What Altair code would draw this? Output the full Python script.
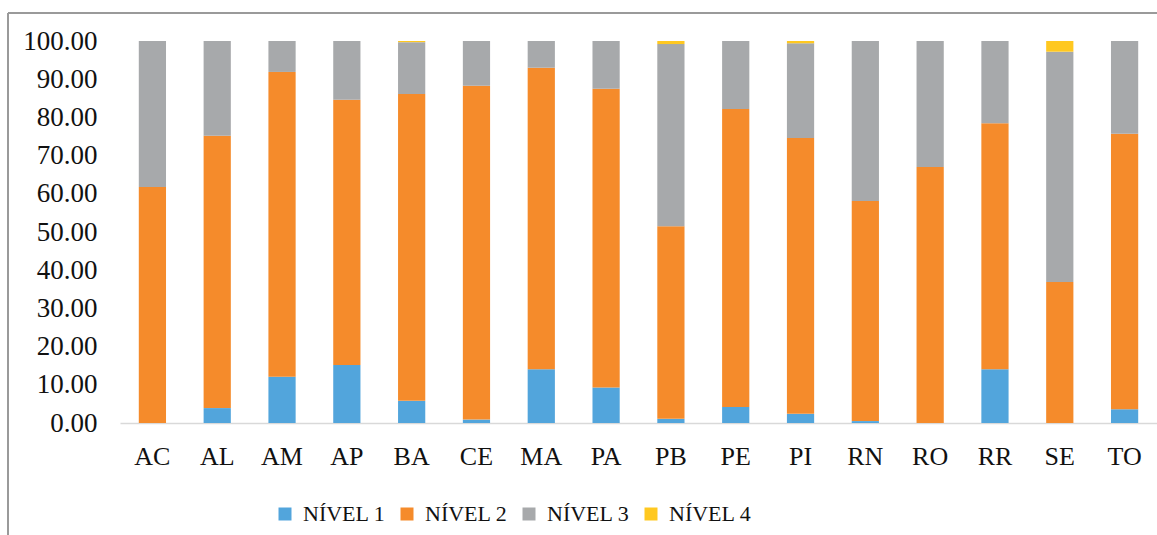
import altair as alt
import pandas as pd

# Share of students per proficiency level, by state (percent)
estados = ["AC", "AL", "AM", "AP", "BA", "CE", "MA", "PA",
           "PB", "PE", "PI", "RN", "RO", "RR", "SE", "TO"]
nivel_1 = [0.0, 3.9, 12.1, 15.2, 5.8, 0.9, 14.1, 9.3,
           1.1, 4.2, 2.4, 0.5, 0.0, 14.1, 0.0, 3.6]
nivel_2 = [61.8, 71.3, 79.8, 69.4, 80.3, 87.4, 78.9, 78.2,
           50.4, 78.0, 72.2, 57.6, 67.0, 64.4, 36.9, 72.1]
nivel_3 = [38.2, 24.8, 8.1, 15.4, 13.6, 11.7, 7.0, 12.5,
           47.7, 17.8, 24.8, 41.9, 33.0, 21.5, 60.3, 24.3]
nivel_4 = [0.0, 0.0, 0.0, 0.0, 0.3, 0.0, 0.0, 0.0,
           0.8, 0.0, 0.6, 0.0, 0.0, 0.0, 2.8, 0.0]

niveis = ["NÍVEL 1", "NÍVEL 2", "NÍVEL 3", "NÍVEL 4"]
cores = ["#52A5DC", "#F58B2B", "#A7A9AB", "#FFC820"]

rows = []
for i, serie in enumerate([nivel_1, nivel_2, nivel_3, nivel_4]):
    for uf, v in zip(estados, serie):
        rows.append({"uf": uf, "nivel": niveis[i], "ordem": i, "valor": v})
df = pd.DataFrame(rows)

FONT = "Liberation Serif"
W, H = 1037, 382

bars = alt.Chart(df).mark_bar().encode(
    x=alt.X("uf:N", sort=estados,
            scale=alt.Scale(paddingInner=0.58, paddingOuter=0.29),
            axis=alt.Axis(title=None, labelAngle=0, ticks=False,
                          domainColor="#d9d9d9", domainWidth=1.5,
                          labelFont=FONT, labelFontSize=26, labelColor="#111",
                          labelPadding=20)),
    y=alt.Y("valor:Q", stack="zero",
            scale=alt.Scale(domain=[0, 100], nice=False),
            axis=alt.Axis(title=None, values=list(range(0, 101, 10)), format=".2f",
                          domain=False, ticks=False, grid=False,
                          labelFont=FONT, labelFontSize=27, labelColor="#111",
                          labelPadding=23)),
    color=alt.Color("nivel:N", title=None,
                    scale=alt.Scale(domain=niveis, range=cores),
                    legend=alt.Legend(orient="none", direction="horizontal",
                                      legendX=154, legendY=462,
                                      symbolType="square", symbolSize=169,
                                      symbolStrokeWidth=0, symbolOffset=0,
                                      labelFont=FONT, labelFontSize=22,
                                      labelColor="#111", labelOffset=7,
                                      columnPadding=10, padding=0)),
    order=alt.Order("ordem:Q", sort="ascending"),
)

# Chart frame: top and left edges
frame_top = alt.Chart(pd.DataFrame({"a": [0]})).mark_rule(
    color="#9a9a9a", strokeWidth=2
).encode(x=alt.value(-112), x2=alt.value(W), y=alt.value(-28))
frame_left = alt.Chart(pd.DataFrame({"a": [0]})).mark_rule(
    color="#9a9a9a", strokeWidth=2
).encode(x=alt.value(-112), y=alt.value(-28), y2=alt.value(H + 120))

chart = alt.layer(bars, frame_top, frame_left).properties(
    width=W, height=H,
    autosize=alt.AutoSizeParams(type="none"),
    padding={"left": 120, "top": 41, "right": 0, "bottom": 112},
).configure(background="white", font=FONT
).configure_view(stroke=None
).configure_axis(labelFont=FONT
).configure_legend(labelFont=FONT)

chart.save("out.html", embed_options={"renderer": "svg", "actions": False})
